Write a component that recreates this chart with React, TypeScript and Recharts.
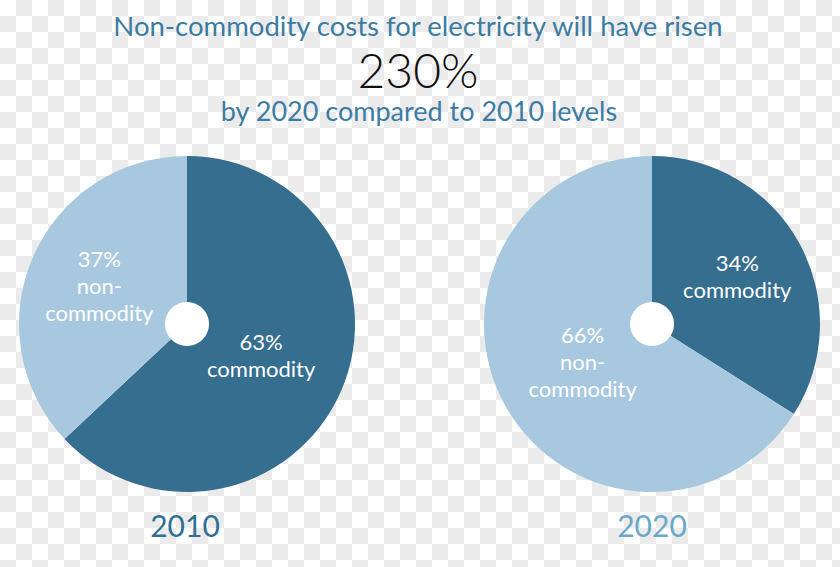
import { PieChart, Pie, Cell } from 'recharts';

const segments = ['commodity', 'non-commodity'];
const share2010 = [63, 37];
const share2020 = [34, 66];
const years = ['2010', '2020'];

const DARK = '#356e8f';
const LIGHT = '#a8c8df';
const RADIAN = Math.PI / 180;

const data2010 = segments.map((name, i) => ({ name, value: share2010[i] }));
const data2020 = segments.map((name, i) => ({ name, value: share2020[i] }));
const hole = [{ name: 'hole', value: 1 }];

function SliceLabel(props: any) {
  const { cx, cy, midAngle, outerRadius, percent, name, value } = props;
  // small slices get their label a bit further out
  const r = outerRadius * (0.694 - 0.338 * percent);
  const x = cx + r * Math.cos(-midAngle * RADIAN);
  const y = cy + r * Math.sin(-midAngle * RADIAN);
  const parts = String(name).split('-');
  const lines = [`${value}%`, ...parts.map((p, i) => (i < parts.length - 1 ? p + '-' : p))];
  const lh = 27;
  const top = y - ((lines.length - 1) * lh) / 2;
  return (
    <text x={x} y={top} fill="#fff" textAnchor="middle" fontFamily="Lato" fontSize={22}>
      {lines.map((l, i) => (
        <tspan key={i} x={x} y={top + i * lh} dy="0.35em">
          {l}
        </tspan>
      ))}
    </text>
  );
}

export default function App() {
  return (
    <div
      style={{
        position: 'absolute',
        left: 0,
        top: 0,
        width: 840,
        height: 567,
        background: 'repeating-conic-gradient(#ebebeb 0% 25%, #ffffff 0% 50%) 0 0 / 32px 32px',
      }}
    >
      <PieChart width={840} height={567} margin={{ top: 0, right: 0, bottom: 0, left: 0 }}>
        <Pie
          data={data2010}
          dataKey="value"
          cx={187}
          cy={324}
          outerRadius={168}
          startAngle={90}
          endAngle={-270}
          stroke="none"
          label={SliceLabel}
          labelLine={false}
          isAnimationActive={false}
        >
          {data2010.map((_, i) => (
            <Cell key={i} fill={i === 0 ? DARK : LIGHT} />
          ))}
        </Pie>
        <Pie
          data={data2020}
          dataKey="value"
          cx={652}
          cy={324}
          outerRadius={168}
          startAngle={90}
          endAngle={-270}
          stroke="none"
          label={SliceLabel}
          labelLine={false}
          isAnimationActive={false}
        >
          {data2020.map((_, i) => (
            <Cell key={i} fill={i === 0 ? DARK : LIGHT} />
          ))}
        </Pie>
        <Pie data={hole} dataKey="value" cx={187} cy={324} outerRadius={22} fill="#fff" stroke="none" isAnimationActive={false} />
        <Pie data={hole} dataKey="value" cx={652} cy={324} outerRadius={22} fill="#fff" stroke="none" isAnimationActive={false} />
      </PieChart>
      <svg width={840} height={567} style={{ position: 'absolute', left: 0, top: 0, pointerEvents: 'none' }}>
        <text x={418} y={36} textAnchor="middle" fontFamily="Lato" fontSize={27.5} fill="#3b7ca3">
          Non-commodity costs for electricity will have risen
        </text>
        <text x={418} y={88} textAnchor="middle" fontFamily="Lato" fontWeight={300} fontSize={48} fill="#111">
          230%
        </text>
        <text x={419} y={121} textAnchor="middle" fontFamily="Lato" fontSize={27} fill="#3b7ca3">
          by 2020 compared to 2010 levels
        </text>
        <text x={185} y={537} textAnchor="middle" fontFamily="Lato" fontSize={30} fill="#2f6f93">
          {years[0]}
        </text>
        <text x={652} y={537} textAnchor="middle" fontFamily="Lato" fontSize={30} fill="#6aa8ca">
          {years[1]}
        </text>
      </svg>
    </div>
  );
}
